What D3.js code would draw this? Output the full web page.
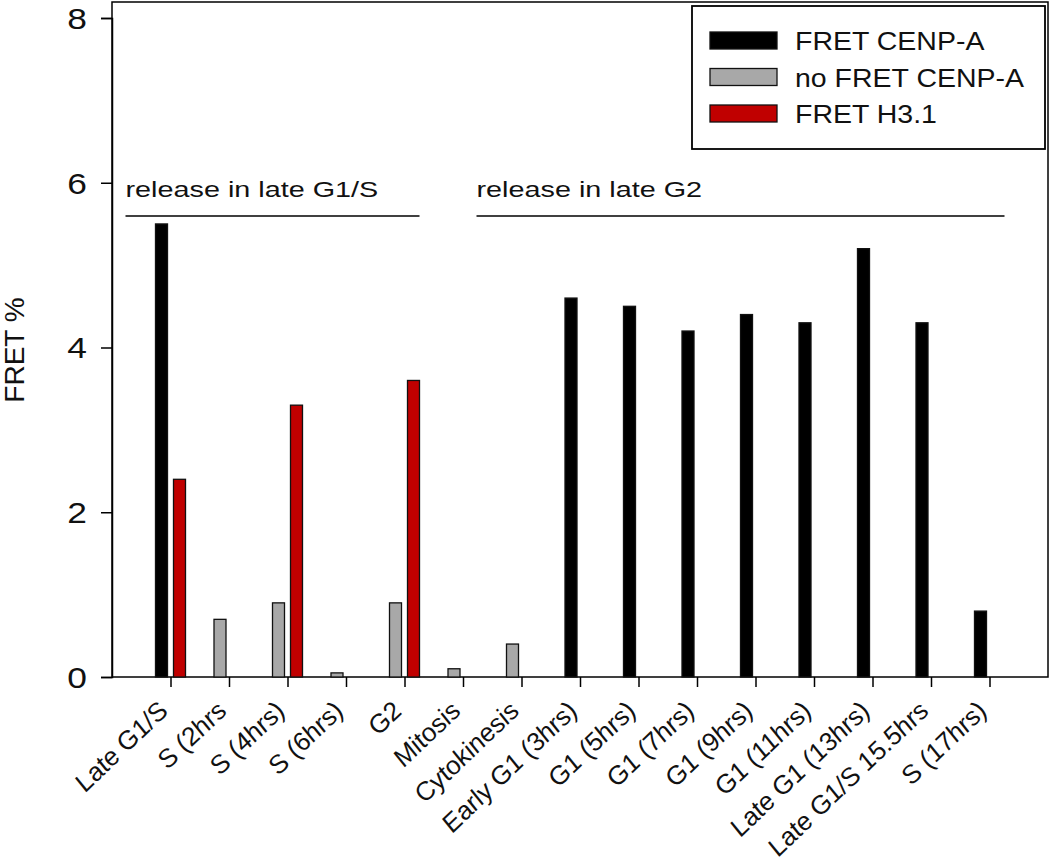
<!DOCTYPE html>
<html>
<head>
<meta charset="utf-8">
<script src="https://cdn.jsdelivr.net/npm/d3@7"></script>
<style>
  body { margin: 0; background: #fff; }
  svg { font-family: "Liberation Sans", Arial, sans-serif; }
</style>
</head>
<body>
<svg id="chart" width="1050" height="861"></svg>
<script>
// categories along the x axis
const phases = ['Late G1/S', 'S (2hrs', 'S (4hrs)', 'S (6hrs)', 'G2', 'Mitosis', 'Cytokinesis',
  'Early G1 (3hrs)', 'G1 (5hrs)', 'G1 (7hrs)', 'G1 (9hrs)', 'G1 (11hrs)', 'Late G1 (13hrs)',
  'Late G1/S 15.5hrs', 'S (17hrs)'];

// FRET % per phase (null = no bar)
const fretCenpA   = [5.5, null, null, null, null, null, null, 4.6, 4.5, 4.2, 4.4, 4.3, 5.2, 4.3, 0.8];
const noFretCenpA = [null, 0.7, 0.9, 0.05, 0.9, 0.1, 0.4, null, null, null, null, null, null, null, null];
const fretH31     = [2.4, null, 3.3, null, 3.6, null, null, null, null, null, null, null, null, null, null];

const yTicks = [0, 2, 4, 6, 8];
const seriesNames = ['FRET CENP-A', 'no FRET CENP-A', 'FRET H3.1'];
const seriesColors = ['#000000', '#a8a8a8', '#c00000'];

const groups = [
  { label: 'release in late G1/S', from: 0, to: 4 },
  { label: 'release in late G2', from: 6, to: 14 }
];

const plotL = 112, plotR = 1048, plotT = 2, plotB = 677;
const stretch = 1.22; // the original artwork is drawn a little wide
const svg = d3.select('#chart');

const x = d3.scalePoint().domain(phases).range([plotL, plotR]).padding(1);
const y = d3.scaleLinear().domain([0, 8]).range([plotB, 18]);

// frame
svg.append('rect')
  .attr('x', plotL).attr('y', plotT)
  .attr('width', plotR - plotL).attr('height', plotB - plotT)
  .attr('fill', 'none').attr('stroke', '#000').attr('stroke-width', 1.5);

// bars: black/gray sit left of the tick, red to the right
const barW = 12;
const series = [
  { vals: fretCenpA, color: seriesColors[0], off: -15 },
  { vals: noFretCenpA, color: seriesColors[1], off: -15 },
  { vals: fretH31, color: seriesColors[2], off: 3 }
];
series.forEach(s => {
  const rows = phases.map((p, i) => ({ p, v: s.vals[i] })).filter(d => d.v != null);
  svg.append('g').selectAll('rect')
    .data(rows)
    .enter()
    .append('rect')
    .attr('x', d => x(d.p) + s.off)
    .attr('y', d => y(d.v))
    .attr('width', barW)
    .attr('height', d => y(0) - y(d.v))
    .attr('fill', s.color)
    .attr('stroke', '#111')
    .attr('stroke-width', 1.3);
});

// y axis
const yAxis = svg.append('g')
  .attr('transform', `translate(${plotL},0)`)
  .call(d3.axisLeft(y).tickValues(yTicks).tickSize(11));
yAxis.select('.domain').attr('stroke-width', 1.5);
yAxis.selectAll('line').attr('stroke-width', 1.5);
yAxis.selectAll('text')
  .attr('x', 0)
  .attr('dy', '0.36em')
  .attr('font-size', 29)
  .attr('fill', '#111')
  .attr('font-family', '"Liberation Sans", Arial, sans-serif')
  .attr('transform', `translate(-25,0) scale(${stretch},1)`);

// x axis
const xAxis = svg.append('g')
  .attr('transform', `translate(0,${plotB})`)
  .call(d3.axisBottom(x).tickSize(10));
xAxis.select('.domain').remove();
xAxis.selectAll('line').attr('stroke-width', 1.5);
xAxis.selectAll('text')
  .attr('x', 0).attr('y', 0).attr('dy', 0)
  .attr('font-size', 24.5)
  .attr('font-style', 'italic')
  .attr('fill', '#111')
  .attr('font-family', '"Liberation Sans", Arial, sans-serif')
  .attr('text-anchor', 'end')
  .attr('transform', 'translate(-1,35) scale(1.12,1) rotate(-47)');

// y label
svg.append('text')
  .attr('transform', `translate(24,350) rotate(-90)`)
  .attr('text-anchor', 'middle')
  .attr('font-size', 28)
  .attr('fill', '#111')
  .text('FRET %');

// release group annotations
groups.forEach(g => {
  const x0 = x(phases[g.from]) - 45;
  const x1 = x(phases[g.to]) + 15;
  svg.append('line')
    .attr('x1', x0).attr('x2', x1)
    .attr('y1', 216).attr('y2', 216)
    .attr('stroke', '#000').attr('stroke-width', 1.5);
  svg.append('text')
    .attr('transform', `translate(${x0},197) scale(1.28,1)`)
    .attr('font-size', 22.5)
    .attr('fill', '#111')
    .text(g.label);
});

// legend
const legend = svg.append('g').attr('transform', 'translate(692,6)');
legend.append('rect')
  .attr('width', 353).attr('height', 143)
  .attr('fill', '#fff').attr('stroke', '#000').attr('stroke-width', 1.8);
seriesNames.forEach((n, i) => {
  const row = legend.append('g').attr('transform', `translate(18,${26 + i * 36.5})`);
  row.append('rect')
    .attr('width', 67).attr('height', 17)
    .attr('fill', seriesColors[i]).attr('stroke', '#111').attr('stroke-width', 1.3);
  row.append('text')
    .attr('transform', 'translate(85,18) scale(1.14,1)')
    .attr('font-size', 25)
    .attr('fill', '#111')
    .text(n);
});
</script>
</body>
</html>
